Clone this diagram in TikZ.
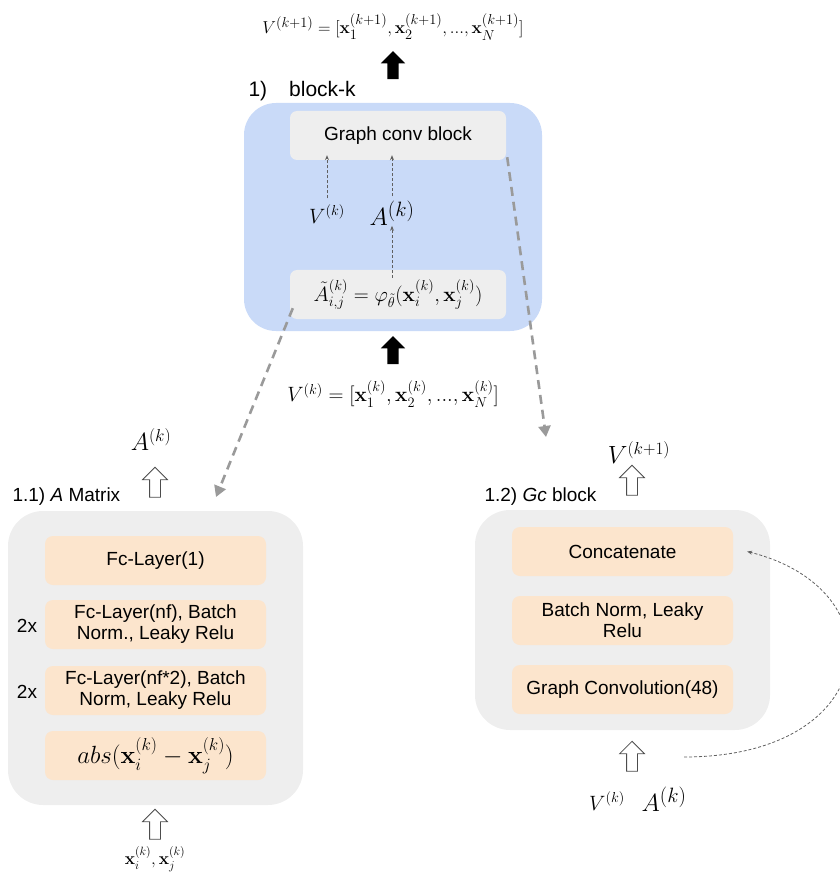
\documentclass[tikz,border=0pt]{standalone}
\usepackage{amsmath}
\usepackage[no-math]{fontspec}
\setmainfont{Liberation Sans}
\usetikzlibrary{shapes.arrows,arrows.meta}
\definecolor{bluebg}{HTML}{C9DAF8}
\definecolor{graybox}{HTML}{EEEEEE}
\definecolor{orangebox}{HTML}{FCE5CD}
\definecolor{dashgray}{HTML}{9A9A9A}
\definecolor{thingray}{HTML}{606060}
\newcommand{\fs}[1]{\fontsize{#1}{#1}\selectfont}
\tikzset{
  txt/.style={font=\fs{19}},
  obox/.style={fill=orangebox, rounded corners=8, minimum width=221, minimum height=49, align=center, inner sep=0, font=\fs{19}},
  panel/.style={fill=graybox, rounded corners=35, minimum width=295, inner sep=0},
  gbox/.style={fill=graybox, rounded corners=7, minimum width=216, minimum height=49, inner sep=0},
  hollow/.style={single arrow, draw=black!70, line width=0.8, fill=white, rotate=90, minimum height=30, inner sep=5, single arrow head extend=7},
  solid arrow/.style={single arrow, fill=black, rotate=90, minimum height=28, inner sep=5.5, single arrow head extend=6.5},
  bigdash/.style={draw=dashgray, line width=2.6, dash pattern=on 9 off 6, -{Triangle[length=11, width=12]}},
  smalldash/.style={draw=thingray, line width=0.8, dash pattern=on 3 off 2, -{Stealth[length=5, width=4]}},
}
\begin{document}
\begin{tikzpicture}[x=1pt,y=-1pt]
\useasboundingbox (0,0) rectangle (839,874);

% ---------- top block ----------
\node[font=\fs{19}] (vout) at (393,27) {$V^{(k+1)}=[\mathbf{x}_1^{(k+1)},\mathbf{x}_2^{(k+1)},...,\mathbf{x}_N^{(k+1)}]$};
\node[solid arrow] (aout) at (393,68) {};
\node[anchor=west, font=\fs{21}] (blabel) at (245,91) {1)\hspace{22pt}block-k};
\node[fill=bluebg, rounded corners=32, minimum width=298, minimum height=228, inner sep=0] (blk) at (393,217) {};
\node[gbox, txt] (gcb) at (398,135.5) {Graph conv block};
\node[gbox] (phi) at (398,294.5) {\fs{22}$\tilde{A}_{i,j}^{(k)}=\varphi_{\tilde{\theta}}(\mathbf{x}_i^{(k)},\mathbf{x}_j^{(k)})$};
\node[font=\fs{22}] (vk) at (327,214) {$V^{(k)}$};
\node[font=\fs{29}] (ak) at (392,213) {$A^{(k)}$};
\draw[smalldash] (vk.north) ++(0,-3) -- ([yshift=5]gcb.south -| vk.north);
\draw[smalldash] (ak.north) ++(0,-1) -- ([yshift=5]gcb.south -| ak.north);
\draw[smalldash] ([yshift=-8]phi.north -| ak.south) -- ([yshift=3]ak.south);
\node[solid arrow] (ain) at (393,353) {};
\node[font=\fs{20}] (vin) at (393,394) {$V^{(k)}=[\mathbf{x}_1^{(k)},\mathbf{x}_2^{(k)},...,\mathbf{x}_N^{(k)}]$};

% ---------- left panel ----------
\node[font=\fs{27}] (aleft) at (151,440) {$A^{(k)}$};
\node[hollow] (hl1) at (155,485) {};
\node[anchor=west, txt] (tleft) at (9,497) {1.1) \textit{A} Matrix};
\node[panel, minimum height=294] (pleft) at (155.5,658) {};
\node[obox] (l1) at (155.5,560.5) {Fc-Layer(1)};
\node[obox] (l2) at (155.5,624.5) {Fc-Layer(nf), Batch\\[2pt]Norm., Leaky Relu};
\node[obox] (l3) at (155.5,690.5) {Fc-Layer(nf*2), Batch\\[2pt]Norm, Leaky Relu};
\node[obox] (l4) at (155.5,755.5) {\fs{24}$abs(\mathbf{x}_i^{(k)}-\mathbf{x}_j^{(k)})$};
\node[txt] (r2) at (27,626) {2x};
\node[txt] (r3) at (27,692) {2x};
\node[hollow] (hl2) at (155,827) {};
\node[font=\fs{17}] (xin) at (155,859) {$\mathbf{x}_i^{(k)},\mathbf{x}_j^{(k)}$};

% ---------- right panel ----------
\node[font=\fs{23}] (vright) at (639,453) {$V^{(k+1)}$};
\node[hollow] (hr1) at (632,483) {};
\node[anchor=west, txt] (tright) at (481,497) {1.2) \textit{Gc} block};
\node[panel, minimum height=220] (pright) at (622.5,620) {};
\node[obox] (r1b) at (622.5,551.5) {Concatenate};
\node[obox] (r2b) at (622.5,620.5) {Batch Norm, Leaky\\[2pt]Relu};
\node[obox] (r3b) at (622.5,689.5) {Graph Convolution(48)};
\node[hollow] (hr2) at (632,759) {};
\node[font=\fs{22}] (vkb) at (607,801) {$V^{(k)}$};
\node[font=\fs{28}] (akb) at (664,799) {$A^{(k)}$};
\coordinate (cstart) at (684,757);
\draw[smalldash] (cstart) .. controls (880,757) and (900,590) .. ([xshift=14]r1b.east);

% ---------- zoom connectors ----------
\draw[bigdash] ([shift={(3,-11)}]phi.south west) -- (216,497);
\draw[bigdash] ([shift={(1,-3)}]gcb.south east) -- (546,437);
\end{tikzpicture}
\end{document}
